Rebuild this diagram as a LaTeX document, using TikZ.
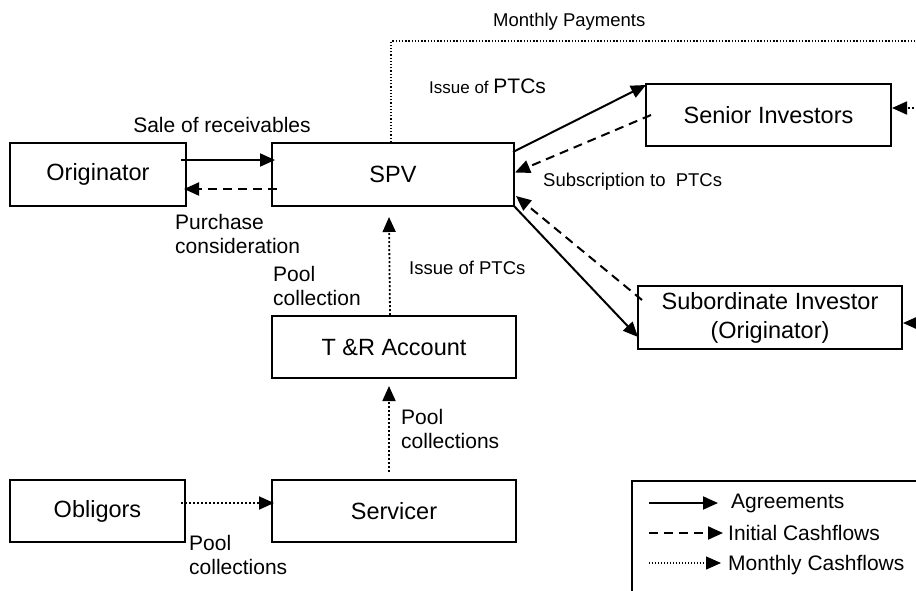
\documentclass[tikz,border=0pt]{standalone}
\usepackage{fontspec}
\setmainfont{Liberation Sans}
\usetikzlibrary{arrows.meta,calc}

\tikzset{
  box/.style={draw,line width=2pt,inner sep=0pt,align=center,
    font=\fontsize{23.5}{29}\selectfont},
  lbl/.style={inner sep=0pt,align=left,anchor=west,
    font=\fontsize{21}{24}\selectfont},
  slbl/.style={inner sep=0pt,anchor=west,font=\fontsize{18.5}{22}\selectfont},
  tipped/.style={-{Triangle[length=15pt,width=13pt]}},
  agr/.style={tipped,line width=2pt},
  ini/.style={tipped,line width=2pt,dash pattern=on 9pt off 6pt},
  mon/.style={tipped,line width=1.8pt,dash pattern=on 1.8pt off 2.2pt},
  monline/.style={line width=1.3pt,dash pattern=on 1.3pt off 1.9pt},
}

\begin{document}
\begin{tikzpicture}[x=1pt,y=-1pt]
\useasboundingbox (0,0) rectangle (916,590);
\clip (0,0) rectangle (916,590);

% boxes
\node[box,minimum width=176pt,minimum height=63pt] (orig)   at (98,174.5)  {Originator};
\node[box,minimum width=242pt,minimum height=63pt] (spv)    at (393,174.5) {SPV};
\node[box,minimum width=244pt,minimum height=62pt] (tr)     at (394,347)   {T \&R Account};
\node[box,minimum width=244pt,minimum height=62pt] (serv)   at (394,511)   {Servicer};
\node[box,minimum width=175pt,minimum height=62pt] (obl)    at (97.5,511)  {Obligors};
\node[box,minimum width=245pt,minimum height=62pt] (senior) at (768.5,115) {Senior Investors};
\node[box,minimum width=264pt,minimum height=63pt] (sub)    at (770,317.5) {Subordinate Investor\\(Originator)};

% Originator <-> SPV
\draw[agr] ([xshift=-6pt,yshift=14.5pt]orig.east) -- ([xshift=4pt,yshift=14.5pt]spv.west);
\draw[ini] ([xshift=6pt,yshift=-14.5pt]spv.west) -- ([xshift=-3pt,yshift=-14.5pt]orig.east);

% SPV <-> Senior
\draw[agr] ([xshift=-2pt,yshift=-10pt]spv.north east) -- ([xshift=1pt,yshift=-2pt]senior.north west);
\draw[ini] ([xshift=6pt]senior.west) -- ([yshift=2pt]spv.east);

% SPV <-> Subordinate
\draw[agr] ([xshift=-1pt,yshift=1pt]spv.south east) -- ([xshift=1pt,yshift=-19.5pt]sub.west);
\draw[ini] ([xshift=5pt,yshift=17.5pt]sub.west) -- ([xshift=1pt,yshift=11pt]spv.south east);

% collections chain
\draw[mon] ([xshift=-4pt]tr.north) -- ([xshift=-4pt,yshift=-10pt]spv.south);
\draw[mon] ([xshift=-5pt,yshift=7pt]serv.north) -- ([xshift=-5pt,yshift=-7pt]tr.south);
\draw[mon] ([xshift=-5pt,yshift=8pt]obl.east) -- ([xshift=3pt,yshift=8pt]serv.west);

% monthly payments
\coordinate (mtop) at (391,41);
\coordinate (mend) at (930,41);
\coordinate (rs) at (930,108);
\coordinate (rb) at (930,323);
\draw[monline] ([xshift=-2pt]spv.north) -- (spv.north -| mtop) -- (mtop) -- (mend);
\draw[mon] (rs) -- ([yshift=7pt]senior.east);
\draw[mon] (rb) -- ([yshift=-5.5pt]sub.east);

% labels
\node[slbl] (lmp) at (493,22) {Monthly Payments};
\node[inner sep=0pt,anchor=base west] (lip1) at (429,93)
  {{\fontsize{17}{20}\selectfont Issue of }{\fontsize{21}{24}\selectfont PTCs}};
\node[lbl,anchor=center] (lsr) at (222,125) {Sale of receivables};
\node[lbl] (lpc) at (175,233.5) {Purchase\\consideration};
\node[lbl] (lpl) at (273,285.5) {Pool\\collection};
\node[slbl] (lip2) at (409,268) {Issue of PTCs};
\node[slbl] (lsub) at (543,182) {Subscription to\ \ PTCs};
\node[lbl] (lpc2) at (401,428.5) {Pool\\collections};
\node[lbl] (lpc3) at (189,555) {Pool\\collections};

% legend
\draw[line width=2pt] (632,481) rectangle (940,610);
\coordinate (la1) at (649,503);
\coordinate (lb1) at (718,503);
\coordinate (la2) at (649,533);
\coordinate (lb2) at (723,533);
\coordinate (la3) at (649,563);
\coordinate (lb3) at (721,563);
\draw[agr] (la1) -- (lb1);
\draw[ini] (la2) -- (lb2);
\draw[mon,line width=1.2pt,dash pattern=on 1.2pt off 1.8pt] (la3) -- (lb3);
\node[lbl] (lg1) at (731,503) {Agreements};
\node[lbl] (lg2) at (728,533) {Initial Cashflows};
\node[lbl] (lg3) at (728,565) {Monthly Cashflows};
\end{tikzpicture}
\end{document}
